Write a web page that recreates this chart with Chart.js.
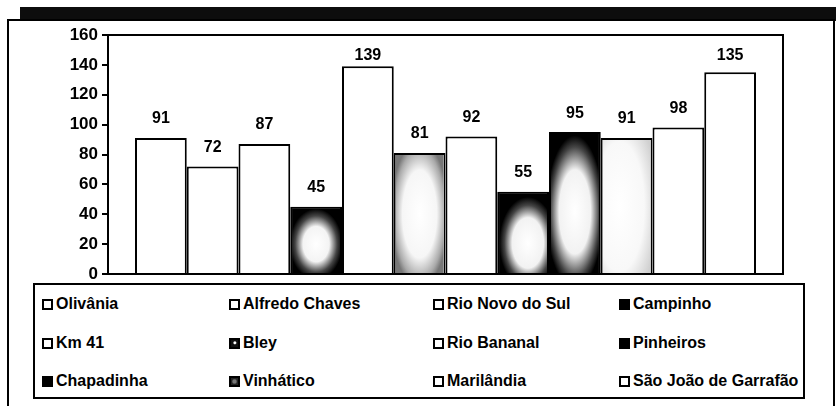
<!DOCTYPE html>
<html>
<head>
<meta charset="utf-8">
<script src="https://cdn.jsdelivr.net/npm/chart.js@4.4.0/dist/chart.umd.min.js"></script>
<style>
  body { margin: 0; background: #fff; }
  #wrap { position: relative; width: 836px; height: 406px; overflow: hidden; }
  #band { position: absolute; left: 20px; top: 7px; width: 816px; height: 14px; background: #0d0d0d; }
  #frame { position: absolute; left: 7px; top: 19px; width: 824px; height: 386px; border: 2px solid #000; border-bottom-color: #999; }
  #chart { position: absolute; left: 0; top: 0; }
  #legend { position: absolute; left: 33px; top: 283px; width: 768px; height: 112px; border: 2px solid #000; background: #fff;
            font: bold 16px "Liberation Sans", Arial, sans-serif; color: #000; }
  .item { position: absolute; display: flex; align-items: center; white-space: nowrap; }
  .box { width: 7px; height: 7px; border: 2px solid #000; margin-right: 3px; }
</style>
</head>
<body>
<div id="wrap">
  <div id="band"></div>
  <div id="frame"></div>
  <canvas id="chart" width="836" height="406"></canvas>
  <div id="legend"></div>
</div>
<script>
// localities and values
let places = [
  "Olivânia", "Alfredo Chaves", "Rio Novo do Sul", "Campinho",
  "Km 41", "Bley", "Rio Bananal", "Pinheiros",
  "Chapadinha", "Vinhático", "Marilândia", "São João de Garrafão"
];
let values = [91, 72, 87, 45, 139, 81, 92, 55, 95, 91, 98, 135];
let yTicks = [0, 20, 40, 60, 80, 100, 120, 140, 160];

// bar look: white, dark with white blob, or light speckled
let textures = ["", "", "", "blob", "", "speckDark", "", "blobRight", "blobTall", "speckLight", "", ""];
let swatches = ["#fff", "#fff", "#fff", "#000", "#fff", "radial-gradient(circle at 55% 40%, #fff 0 15%, #111 35%)", "#fff", "#000",
  "#000", "radial-gradient(circle, #777 0 30%, #222 60%)", "#fff", "#fff"];

let fontName = '"Liberation Sans", Arial, sans-serif';

let datasets = places.map((name, i) => ({
  label: name,
  data: [values[i]],
  backgroundColor: textures[i].startsWith("blob") ? "#000" : "#fff",
  borderColor: "#000",
  borderWidth: 2,
  categoryPercentage: 0.92,
  barPercentage: 1
}));

// paint the texture inside each textured bar
let texturePlugin = {
  id: "texture",
  afterDatasetDraw(chart, args) {
    let kind = textures[args.index];
    if (!kind) return;
    let bar = chart.getDatasetMeta(args.index).data[0];
    let ctx = chart.ctx;
    let left = bar.x - bar.width / 2 + 2, right = bar.x + bar.width / 2 - 2;
    let top = bar.y + 2, bottom = bar.base;
    let w = right - left, h = bottom - top;
    let cx = left + w / 2, cy = top + h / 2, rx = w * 0.5, ry = h * 0.5;
    let stops;
    if (kind === "blob") { cy = top + h * 0.55; rx = w * 0.55; ry = h * 0.55; stops = [[0, "#fff"], [0.5, "#f4f4f4"], [0.8, "#444"], [1, "#000"]]; }
    if (kind === "blobRight") { cx = left + w * 0.6; cy = top + h * 0.62; rx = w * 0.6; ry = h * 0.58; stops = [[0, "#fff"], [0.55, "#f2f2f2"], [0.82, "#444"], [1, "#000"]]; }
    if (kind === "blobTall") { cy = top + h * 0.56; rx = w * 0.6; ry = h * 0.55; stops = [[0, "#fff"], [0.55, "#f2f2f2"], [0.85, "#444"], [1, "#000"]]; }
    if (kind === "speckDark") { rx = w * 0.6; ry = h * 0.62; stops = [[0, "#fff"], [0.6, "#f6f6f6"], [0.88, "#aaa"], [1, "#777"]]; }
    if (kind === "speckLight") { cx = left + w * 0.35; rx = w * 0.8; ry = h * 0.75; stops = [[0, "#fff"], [0.65, "#f8f8f8"], [1, "#d0d0d0"]]; }
    ctx.save();
    ctx.beginPath();
    ctx.rect(left, top, w, h);
    ctx.clip();
    ctx.translate(cx, cy);
    ctx.scale(1, ry / rx);
    let g = ctx.createRadialGradient(0, 0, 0, 0, 0, rx);
    stops.forEach(s => g.addColorStop(s[0], s[1]));
    ctx.fillStyle = g;
    ctx.fillRect(-rx * 3, -rx * 3 * (rx / ry), rx * 6, rx * 6 * (rx / ry));
    ctx.restore();
  }
};

// values above bars and the plot box
let labelPlugin = {
  id: "labels",
  afterDatasetsDraw(chart) {
    let ctx = chart.ctx;
    let a = chart.chartArea;
    ctx.save();
    ctx.strokeStyle = "#000";
    ctx.lineWidth = 2;
    ctx.strokeRect(a.left, a.top, a.right - a.left, a.bottom - a.top);
    ctx.font = "bold 16px " + fontName;
    ctx.fillStyle = "#000";
    ctx.textAlign = "center";
    ctx.textBaseline = "middle";
    chart.data.datasets.forEach((ds, i) => {
      let bar = chart.getDatasetMeta(i).data[0];
      ctx.fillText(String(ds.data[0]), bar.x, Math.max(bar.y - 19, a.top + 21));
    });
    ctx.restore();
  }
};

let chart = new Chart(document.getElementById("chart"), {
  type: "bar",
  data: { labels: [""], datasets: datasets },
  options: {
    responsive: false,
    animation: false,
    layout: { padding: { left: 0, top: 35, right: 53, bottom: 132 } },
    plugins: { legend: { display: false }, tooltip: { enabled: false } },
    scales: {
      x: { display: false },
      y: {
        min: 0,
        max: 160,
        afterFit: (scale) => { scale.width = 108; },
        afterBuildTicks: (scale) => { scale.ticks = yTicks.map(v => ({ value: v })); },
        border: { color: "#000", width: 2 },
        grid: { drawOnChartArea: false, drawTicks: true, tickLength: 6, color: "#000", lineWidth: 2 },
        ticks: { color: "#000", padding: 4, font: { family: fontName, size: 17, weight: "bold" } }
      }
    }
  },
  plugins: [texturePlugin, labelPlugin]
});

// legend in four fixed columns
let colX = [7, 194, 398, 584];
let rowY = [19, 58, 96];
let legend = document.getElementById("legend");
places.forEach((name, i) => {
  let item = document.createElement("div");
  item.className = "item";
  item.style.left = colX[i % 4] + "px";
  item.style.top = (rowY[Math.floor(i / 4)] - 10) + "px";
  item.style.height = "20px";
  let box = document.createElement("span");
  box.className = "box";
  box.style.background = swatches[i];
  let text = document.createElement("span");
  text.textContent = name;
  item.appendChild(box);
  item.appendChild(text);
  legend.appendChild(item);
});
</script>
</body>
</html>
